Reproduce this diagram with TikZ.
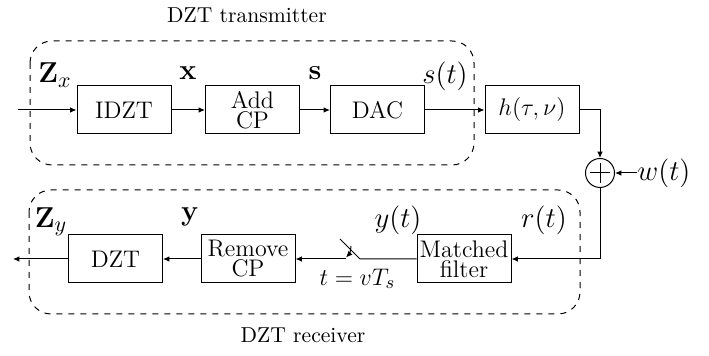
\documentclass[tikz,border=0pt]{standalone}
\usepackage{amsmath,bm}
\usetikzlibrary{arrows.meta,calc}
\begin{document}
\begin{tikzpicture}[x=0.5pt,y=-0.5pt,
  blk/.style={draw,line width=0.5pt,minimum width=47pt,minimum height=24pt,inner sep=0pt,align=center,font=\fontsize{12}{12}\selectfont},
  lbl/.style={inner sep=0pt,font=\fontsize{15}{17}\selectfont},
  grp/.style={draw,dashed,line width=0.5pt,rounded corners=11pt},
  grplbl/.style={inner sep=0pt,font=\fontsize{10.8}{12}\selectfont},
  sig/.style={line width=0.5pt,-{Latex[length=3.2pt,width=2.8pt]}},
  wire/.style={line width=0.5pt}]
\useasboundingbox (0,0) rectangle (709,356);
% groups
\draw[grp] (30,41) rectangle (474,165);
\draw[grp] (29,190) rectangle (580,314);
\node[grplbl] (txl) at (247,15) {DZT transmitter};
\node[grplbl] (rxl) at (303,335) {DZT receiver};
% blocks
\node[blk] (idzt) at (124,110) {IDZT};
\node[blk] (addcp) at (252.5,110) {Add\\[-2pt]CP};
\node[blk] (dac) at (377.5,110) {DAC};
\node[blk] (ch) at (532,110) {$h(\tau,\nu)$};
\node[draw,circle,line width=0.5pt,minimum size=14.5pt,inner sep=0pt] (add) at (600,173) {};
\draw[line width=0.5pt] ($(add.center)+(-10,0)$) -- ($(add.center)+(10,0)$);
\draw[line width=0.5pt] ($(add.center)+(0,-10)$) -- ($(add.center)+(0,10)$);
\node[blk] (mf) at (464,259) {Matched\\[-2pt]filter};
\node[blk] (rcp) at (248,259) {Remove\\[-2pt]CP};
\node[blk] (dzt) at (115.5,259) {DZT};
% coordinates
\coordinate (in) at (18,110);
\coordinate (out) at (13,259);
\coordinate (sa) at (360,259);
\coordinate (sb) at (340,239);
\coordinate (sc) at (346,259);
\coordinate (aa) at (351,246);
\coordinate (ab) at (346,257.5);
% labels
\node[lbl] (zx) at (55,75) {$\mathbf{Z}_x$};
\node[lbl] (xl) at (188,73) {$\mathbf{x}$};
\node[lbl] (sl) at (315,73) {$\mathbf{s}$};
\node[lbl] (stl) at (445,76) {$s(t)$};
\node[lbl,anchor=west,font=\fontsize{14}{16}\selectfont] (wl) at (637,173) {$w(t)$};
\node[lbl] (zy) at (51,222) {$\mathbf{Z}_y$};
\node[lbl] (yl) at (190,217) {$\mathbf{y}$};
\node[lbl] (ytl) at (398,220) {$y(t)$};
\node[lbl] (rtl) at (544,220) {$r(t)$};
\node[lbl,font=\fontsize{12.5}{14}\selectfont] (tl) at (357.5,279) {$t=vT_s$};
% connectors
\draw[sig] (in) -- (idzt);
\draw[sig] (idzt) -- (addcp);
\draw[sig] (addcp) -- (dac);
\draw[sig] (dac) -- (ch);
\draw[sig] (ch.east) -| (add.north);
\draw[sig] (wl.west) -- (add.east);
\draw[sig] (add.south) |- (mf.east);
\draw[wire] (mf.west) -- (sa) -- (sb);
\draw[sig] (aa) to[bend left=20] (ab);
\draw[sig] (sc) -- (rcp.east);
\draw[sig] (rcp) -- (dzt);
\draw[sig] (dzt) -- (out);
\end{tikzpicture}
\end{document}
